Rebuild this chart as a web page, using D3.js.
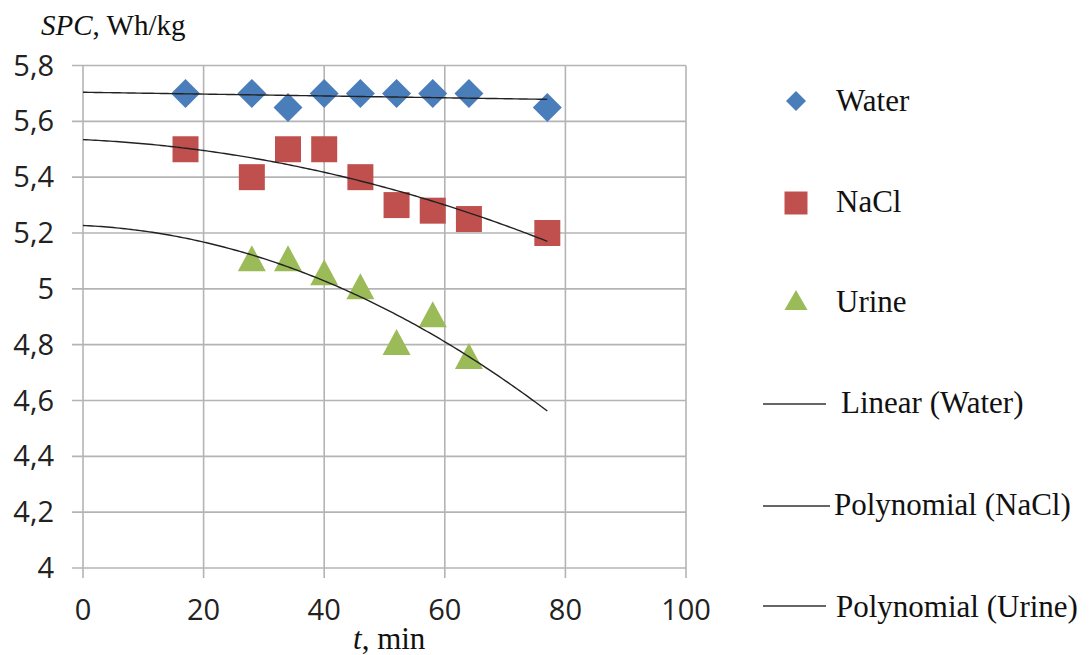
<!DOCTYPE html>
<html><head><meta charset="utf-8">
<script src="https://cdn.jsdelivr.net/npm/d3@7"></script>
<style>
html,body{margin:0;padding:0;background:#fff;}
svg{display:block;}
</style></head>
<body>
<svg id="c" width="1090" height="655"></svg>
<script>
// ---- data ----
const timeWater = [17, 28, 34, 40, 46, 52, 58, 64, 77];
const spcWater  = [5.70, 5.70, 5.65, 5.70, 5.70, 5.70, 5.70, 5.70, 5.65];
const timeNaCl  = [17, 28, 34, 40, 46, 52, 58, 64, 77];
const spcNaCl   = [5.50, 5.40, 5.50, 5.50, 5.40, 5.30, 5.28, 5.25, 5.20];
const timeUrine = [28, 34, 40, 46, 52, 58, 64];
const spcUrine  = [5.10, 5.10, 5.05, 5.00, 4.80, 4.90, 4.75];
const xTicks = [0, 20, 40, 60, 80, 100];
const yTicks = [4, 4.2, 4.4, 4.6, 4.8, 5, 5.2, 5.4, 5.6, 5.8];
const trendRange = [0, 77];
const legendLabels = ["Water", "NaCl", "Urine", "Linear (Water)", "Polynomial (NaCl)", "Polynomial (Urine)"];

// least squares polynomial fit
function polyfit(xs, ys, order) {
  const n = order + 1;
  const A = Array.from({length: n}, () => new Array(n + 1).fill(0));
  xs.forEach((x, k) => {
    for (let i = 0; i < n; i++) {
      for (let j = 0; j < n; j++) A[i][j] += Math.pow(x, i + j);
      A[i][n] += ys[k] * Math.pow(x, i);
    }
  });
  for (let i = 0; i < n; i++) {
    let p = i;
    for (let r = i + 1; r < n; r++) if (Math.abs(A[r][i]) > Math.abs(A[p][i])) p = r;
    [A[i], A[p]] = [A[p], A[i]];
    for (let r = 0; r < n; r++) {
      if (r === i) continue;
      const f = A[r][i] / A[i][i];
      for (let c = i; c <= n; c++) A[r][c] -= f * A[i][c];
    }
  }
  const coef = A.map((row, i) => row[n] / row[i]);
  return x => coef.reduce((s, c, i) => s + c * Math.pow(x, i), 0);
}

const svg = d3.select("#c");
const x = d3.scaleLinear().domain([0, 100]).range([83, 686]);
const y = d3.scaleLinear().domain([4, 5.8]).range([568, 65.5]);
const grid = "#b4b4b4";
const fmt = v => d3.format("~g")(v).replace(".", ",");

// gridlines
svg.append("g").selectAll("line").data(xTicks).join("line")
  .attr("x1", d => x(d)).attr("x2", d => x(d))
  .attr("y1", y(5.8)).attr("y2", y(4) + 10)
  .attr("stroke", grid).attr("stroke-width", 1.6);
svg.append("g").selectAll("line").data(yTicks).join("line")
  .attr("x1", x(0) - 11).attr("x2", x(100))
  .attr("y1", d => y(d)).attr("y2", d => y(d))
  .attr("stroke", grid).attr("stroke-width", 1.6);

// tick labels
svg.append("g").selectAll("text").data(xTicks).join("text")
  .attr("x", d => x(d)).attr("y", 620)
  .attr("text-anchor", "middle")
  .attr("font-family", "Open Sans").attr("font-size", 29).attr("fill", "#222")
  .text(d => d);
svg.append("g").selectAll("text").data(yTicks).join("text")
  .attr("x", 54).attr("y", d => y(d) + 10)
  .attr("text-anchor", "end")
  .attr("font-family", "Open Sans").attr("font-size", 29).attr("fill", "#222")
  .text(d => fmt(d));

// axis titles
const yt = svg.append("text").attr("x", 41).attr("y", 35)
  .attr("font-family", "Liberation Serif").attr("font-size", 29).attr("fill", "#111");
yt.append("tspan").attr("font-style", "italic").text("SPC");
yt.append("tspan").text(", Wh/kg");
const xt = svg.append("text").attr("x", 353).attr("y", 649)
  .attr("font-family", "Liberation Serif").attr("font-size", 31).attr("fill", "#111");
xt.append("tspan").attr("font-style", "italic").text("t");
xt.append("tspan").text(", min");

// trend lines
const samples = d3.range(trendRange[0], trendRange[1] + 0.001, 0.5);
const line = d3.line().x(d => x(d[0])).y(d => y(d[1]));
const fits = [polyfit(timeWater, spcWater, 1), polyfit(timeNaCl, spcNaCl, 2), polyfit(timeUrine, spcUrine, 2)];

// markers
const blue = "#4a7ebb", red = "#c0504d", green = "#9bbb59";
const diamond = s => `M0,${-s}L${s},0L0,${s}L${-s},0Z`;
const square = s => `M${-s},${-s}H${s}V${s}H${-s}Z`;
const tri = (w, h) => `M0,${-h * 0.6}L${w / 2},${h * 0.4}L${-w / 2},${h * 0.4}Z`;

svg.append("g").selectAll("path").data(timeWater.map((t, i) => [t, spcWater[i]])).join("path")
  .attr("d", diamond(14.5)).attr("fill", blue)
  .attr("transform", d => `translate(${x(d[0])},${y(d[1])})`);
svg.append("g").selectAll("path").data(timeNaCl.map((t, i) => [t, spcNaCl[i]])).join("path")
  .attr("d", square(13)).attr("fill", red)
  .attr("transform", d => `translate(${x(d[0])},${y(d[1])})`);
svg.append("g").selectAll("path").data(timeUrine.map((t, i) => [t, spcUrine[i]])).join("path")
  .attr("d", tri(28, 26)).attr("fill", green)
  .attr("transform", d => `translate(${x(d[0])},${y(d[1])})`);

svg.append("g").selectAll("path").data(fits).join("path")
  .attr("d", f => line(samples.map(t => [t, f(t)])))
  .attr("fill", "none").attr("stroke", "#222").attr("stroke-width", 1.4);

// legend
const lg = svg.append("g");
const lMarkers = [
  {d: diamond(10), c: blue, y: 101},
  {d: square(11.5), c: red, y: 203},
  {d: tri(23, 20), c: green, y: 302}
];
lg.selectAll("path").data(lMarkers).join("path")
  .attr("d", d => d.d).attr("fill", d => d.c)
  .attr("transform", d => `translate(796,${d.y})`);
const lLines = [{y: 404, x2: 826}, {y: 506, x2: 830}, {y: 606, x2: 826}];
lg.selectAll("line").data(lLines).join("line")
  .attr("x1", 763).attr("x2", d => d.x2).attr("y1", d => d.y).attr("y2", d => d.y)
  .attr("stroke", "#333").attr("stroke-width", 1.6);
const lText = [
  {x: 836, y: 111}, {x: 836, y: 212}, {x: 836, y: 312},
  {x: 841, y: 413}, {x: 834, y: 515}, {x: 836, y: 617}
];
lg.selectAll("text").data(legendLabels).join("text")
  .attr("x", (d, i) => lText[i].x).attr("y", (d, i) => lText[i].y)
  .attr("font-family", "Liberation Serif").attr("font-size", 31).attr("fill", "#111")
  .text(d => d);
</script>
</body></html>
